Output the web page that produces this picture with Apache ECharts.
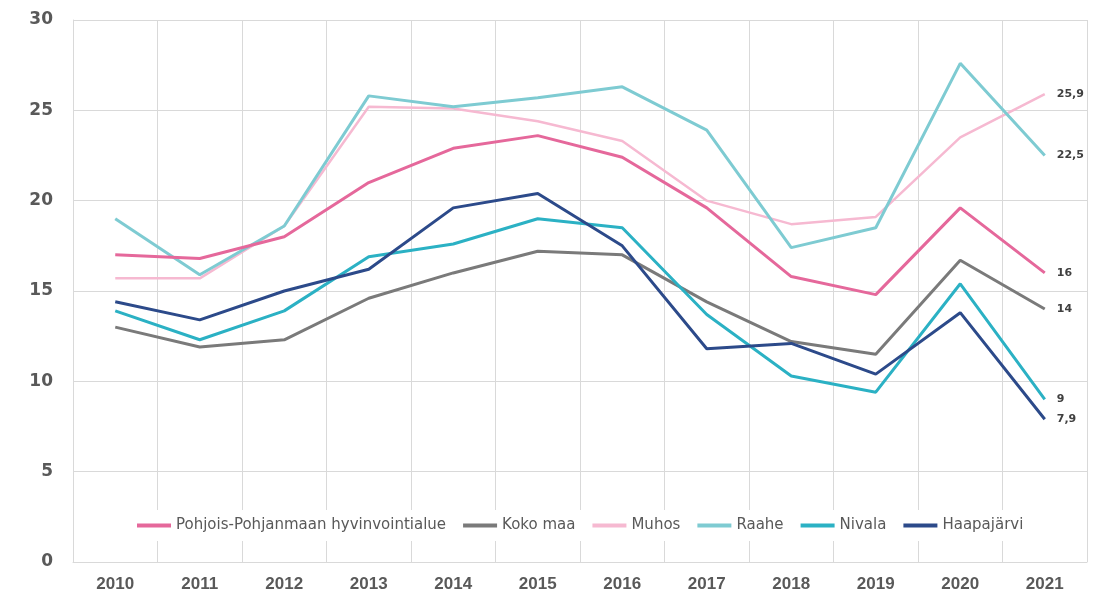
<!DOCTYPE html>
<html>
<head>
<meta charset="utf-8">
<script src="https://cdn.jsdelivr.net/npm/echarts@6/dist/echarts.min.js"></script>
<style>
  html, body { margin: 0; padding: 0; background: #fff; }
  #chart { width: 1107px; height: 601px; }
</style>
</head>
<body>
<div id="chart"></div>
<script>
// vuodet
const years = ['2010', '2011', '2012', '2013', '2014', '2015', '2016', '2017', '2018', '2019', '2020', '2021'];

const pohjoisPohjanmaa = [17.0, 16.8, 18.0, 21.0, 22.9, 23.6, 22.4, 19.6, 15.8, 14.8, 19.6, 16];
const kokoMaa = [13.0, 11.9, 12.3, 14.6, 16.0, 17.2, 17.0, 14.4, 12.2, 11.5, 16.7, 14];
const muhos = [15.7, 15.7, 18.6, 25.2, 25.1, 24.4, 23.3, 20.0, 18.7, 19.1, 23.5, 25.9];
const raahe = [19.0, 15.9, 18.6, 25.8, 25.2, 25.7, 26.3, 23.9, 17.4, 18.5, 27.6, 22.5];
const nivala = [13.9, 12.3, 13.9, 16.9, 17.6, 19.0, 18.5, 13.7, 10.3, 9.4, 15.4, 9];
const haapajarvi = [14.4, 13.4, 15.0, 16.2, 19.6, 20.4, 17.5, 11.8, 12.1, 10.4, 13.8, 7.9];

const yTicks = [0, 5, 10, 15, 20, 25, 30];

const chart = echarts.init(document.getElementById('chart'), null, { renderer: 'canvas' });

// apufunktio: viiva + loppuarvo pilkulla
function line(name, data, color, width) {
    return {
        name: name,
        type: 'line',
        data: data,
        symbol: 'none',
        lineStyle: { color: color, width: width },
        itemStyle: { color: color },
        endLabel: {
            show: true,
            distance: 12,
            color: '#404040',
            fontSize: 11,
            fontWeight: 'bold',
            fontFamily: 'DejaVu Sans',
            formatter: (p) => String(p.value).replace('.', ',')
        },
        emphasis: { disabled: true }
    };
}

const option = {
    animation: false,
    backgroundColor: '#fff',
    grid: { left: 73, right: 20, top: 20, bottom: 39 },
    legend: {
        bottom: 60,
        left: 131,
        backgroundColor: '#fff',
        padding: [8, 6],
        itemWidth: 34,
        itemHeight: 4,
        itemGap: 17,
        icon: 'rect',
        textStyle: { color: '#595959', fontSize: 15, fontFamily: 'DejaVu Sans' },
        data: ['Pohjois-Pohjanmaan hyvinvointialue', 'Koko maa', 'Muhos', 'Raahe', 'Nivala', 'Haapajärvi']
    },
    xAxis: {
        type: 'category',
        data: years,
        boundaryGap: true,
        axisLine: { lineStyle: { color: '#d9d9d9' } },
        axisTick: { show: true, length: 0 },
        axisLabel: {
            color: '#595959',
            fontSize: 17,
            fontWeight: 'bold',
            fontFamily: 'Liberation Sans Narrow, Liberation Sans',
            margin: 14
        },
        splitLine: { show: true, lineStyle: { color: '#d9d9d9', width: 1 } }
    },
    yAxis: {
        type: 'value',
        min: yTicks[0],
        max: yTicks[yTicks.length - 1],
        interval: 5,
        axisLine: { show: true, lineStyle: { color: '#d9d9d9' } },
        axisTick: { show: false },
        axisLabel: {
            color: '#595959',
            fontSize: 17,
            fontWeight: 'bold',
            fontFamily: 'DejaVu Sans',
            margin: 20
        },
        splitLine: { lineStyle: { color: '#d9d9d9', width: 1 } }
    },
    series: [
        line('Koko maa', kokoMaa, '#7a7a7a', 3),
        line('Muhos', muhos, '#f6b9d1', 2.5),
        line('Raahe', raahe, '#7ecbd2', 3),
        line('Pohjois-Pohjanmaan hyvinvointialue', pohjoisPohjanmaa, '#e5689b', 3),
        line('Nivala', nivala, '#2bb1c4', 3),
        line('Haapajärvi', haapajarvi, '#2c4a8a', 3)
    ]
};

chart.setOption(option);
</script>
</body>
</html>
